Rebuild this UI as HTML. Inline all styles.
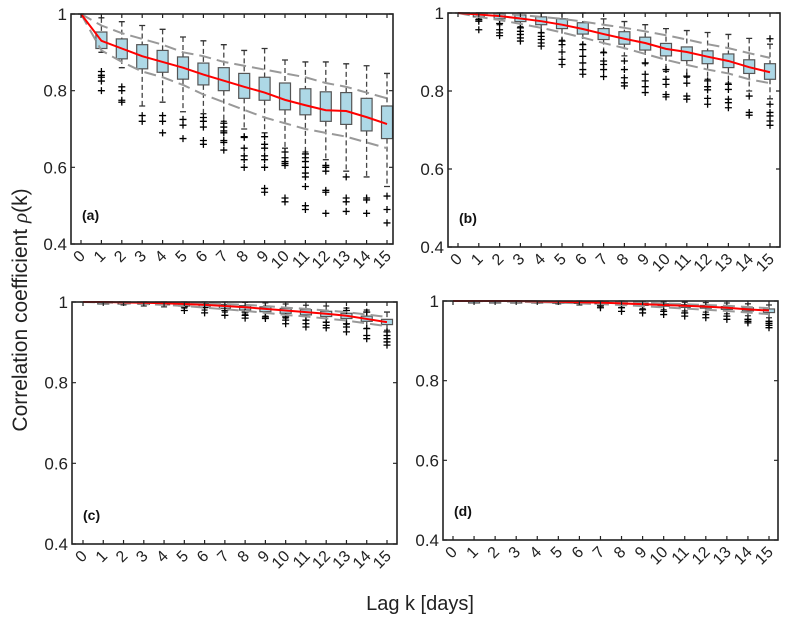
<!DOCTYPE html>
<html><head><meta charset="utf-8"><style>
body{margin:0;background:#fff;}
svg{display:block;font-family:"Liberation Sans",Arial,sans-serif;}
</style></head><body>
<svg id="chart" width="790" height="622" viewBox="0 0 790 622" xmlns="http://www.w3.org/2000/svg">
<text x="0" y="0" transform="translate(27,310) rotate(-90)" text-anchor="middle" font-size="21" fill="#222">Correlation coefficient <tspan font-family="Liberation Serif" font-style="italic">ρ</tspan>(k)</text>
<text x="420" y="610" text-anchor="middle" font-size="20" fill="#222">Lag k [days]</text>
</svg>
<script>
const lags=[0,1,2,3,4,5,6,7,8,9,10,11,12,13,14,15];
const yTicks=[0.4,0.6,0.8,1];
const yTickLabels=["0.4","0.6","0.8","1"];
// Panel (a)
const aMed=[1,0.93,0.91,0.89,0.875,0.86,0.842,0.826,0.81,0.795,0.776,0.762,0.749,0.747,0.731,0.713];
const aQ1=[1,0.91,0.883,0.857,0.848,0.83,0.815,0.8,0.78,0.775,0.75,0.737,0.72,0.712,0.695,0.675];
const aQ3=[1,0.953,0.935,0.92,0.905,0.888,0.872,0.86,0.845,0.835,0.82,0.805,0.797,0.795,0.78,0.76];
const aHi=[1,0.99,0.98,0.97,0.96,0.94,0.93,0.92,0.905,0.91,0.88,0.875,0.875,0.87,0.865,0.845];
const aLo=[1,0.9,0.86,0.76,0.77,0.745,0.74,0.72,0.7,0.69,0.65,0.64,0.62,0.59,0.575,0.55];
const aUp=[1,0.97,0.95,0.935,0.92,0.9,0.89,0.875,0.865,0.855,0.845,0.835,0.82,0.81,0.795,0.78];
const aDn=[1,0.905,0.875,0.85,0.835,0.815,0.79,0.77,0.75,0.73,0.715,0.7,0.69,0.68,0.665,0.65];
const aOut=[[],[0.85,0.84,0.835,0.825,0.8],[0.81,0.8,0.775,0.77],[0.735,0.72],[0.735,0.72,0.69],[0.725,0.71,0.675],[0.73,0.72,0.705,0.67,0.66],[0.715,0.705,0.695,0.69,0.67,0.665,0.645],[0.68,0.678,0.65,0.63,0.62,0.6],[0.68,0.66,0.65,0.63,0.62,0.6,0.545,0.535],[0.64,0.625,0.615,0.61,0.605,0.52,0.51],[0.635,0.625,0.615,0.6,0.585,0.575,0.55,0.5,0.49],[0.605,0.6,0.59,0.54,0.535,0.48],[0.575,0.52,0.51,0.485],[0.52,0.515,0.48],[0.525,0.49,0.455]];
// Panel (b)
const bMed=[1,0.996,0.992,0.986,0.979,0.97,0.959,0.946,0.934,0.923,0.908,0.9,0.888,0.877,0.861,0.848];
const bQ1=[1,0.99,0.985,0.978,0.97,0.96,0.946,0.932,0.92,0.905,0.89,0.878,0.87,0.86,0.845,0.83];
const bQ3=[1,0.999,0.998,0.995,0.99,0.985,0.975,0.96,0.952,0.938,0.922,0.913,0.903,0.895,0.88,0.87];
const bHi=[1,1,1,1,1,1,1,0.985,0.978,0.97,0.96,0.955,0.95,0.945,0.935,0.92];
const bLo=[1,0.985,0.97,0.965,0.95,0.93,0.92,0.9,0.89,0.87,0.85,0.835,0.83,0.82,0.8,0.78];
const bUp=[1,1,0.998,0.995,0.99,0.985,0.978,0.97,0.962,0.953,0.943,0.932,0.92,0.91,0.897,0.885];
const bDn=[1,0.99,0.982,0.972,0.962,0.95,0.937,0.923,0.91,0.895,0.88,0.867,0.855,0.845,0.83,0.82];
const bOut=[[],[0.983,0.979,0.957],[0.973,0.957,0.949,0.942],[0.962,0.953,0.945,0.936,0.928],[0.949,0.94,0.932,0.923,0.915],[0.928,0.919,0.9,0.881,0.868],[0.919,0.906,0.889,0.872,0.855,0.843],[0.898,0.877,0.868,0.855,0.837],[0.877,0.855,0.834,0.821,0.813],[0.872,0.843,0.826,0.811,0.796],[0.855,0.83,0.817,0.791,0.785],[0.838,0.82,0.787,0.779],[0.826,0.811,0.803,0.781,0.766],[0.817,0.804,0.779,0.77,0.757],[0.787,0.745,0.738],[0.934,0.766,0.745,0.736,0.723,0.712]];
// Panel (c)
const cMed=[1,1,0.999,0.998,0.997,0.995,0.993,0.99,0.987,0.983,0.979,0.975,0.971,0.966,0.958,0.95];
const cQ1=[1,0.999,0.997,0.995,0.993,0.99,0.987,0.984,0.98,0.976,0.972,0.968,0.964,0.959,0.952,0.944];
const cQ3=[1,1,1,0.999,0.999,0.998,0.996,0.994,0.991,0.988,0.984,0.981,0.977,0.972,0.965,0.957];
const cHi=[1,1,1,1,1,1,1,1,0.999,0.998,0.995,0.992,0.99,0.985,0.98,0.975];
const cLo=[1,0.997,0.993,0.99,0.988,0.985,0.98,0.975,0.97,0.965,0.96,0.955,0.95,0.945,0.935,0.93];
const cUp=[1,1,1,0.999,0.999,0.998,0.997,0.995,0.993,0.99,0.986,0.983,0.979,0.975,0.969,0.963];
const cDn=[1,0.999,0.997,0.995,0.993,0.99,0.986,0.982,0.978,0.973,0.968,0.964,0.959,0.954,0.947,0.94];
const cOut=[[],[],[],[],[],[0.988,0.979],[0.986,0.973],[0.979,0.967],[0.975,0.967,0.96],[0.963,0.959],[0.963,0.955,0.946],[0.955,0.946,0.938],[0.95,0.942,0.936],[0.979,0.946,0.938,0.926],[0.975,0.934,0.917,0.909],[0.926,0.917,0.909,0.901,0.893]];
// Panel (d)
const dMed=[1,1,1,1,0.999,0.998,0.997,0.996,0.994,0.992,0.99,0.988,0.986,0.983,0.979,0.976];
const dQ1=[1,1,0.999,0.999,0.998,0.996,0.995,0.993,0.991,0.989,0.987,0.984,0.982,0.979,0.975,0.971];
const dQ3=[1,1,1,1,1,0.999,0.999,0.998,0.997,0.995,0.993,0.991,0.989,0.986,0.983,0.98];
const dHi=[1,1,1,1,1,1,1,1,1,0.999,0.998,0.997,0.996,0.995,0.993,0.99];
const dLo=[1,0.999,0.998,0.997,0.995,0.993,0.99,0.987,0.984,0.981,0.978,0.975,0.972,0.968,0.963,0.958];
const dUp=[1,1,1,1,1,0.999,0.999,0.998,0.997,0.996,0.994,0.992,0.99,0.988,0.985,0.982];
const dDn=[1,1,0.999,0.998,0.997,0.996,0.994,0.992,0.99,0.987,0.984,0.981,0.978,0.975,0.971,0.967];
const dOut=[[],[],[],[],[],[],[],[0.988,0.983],[0.983,0.974],[0.978,0.97],[0.974,0.966],[0.97,0.962],[0.966,0.958],[0.962,0.954],[0.954,0.949,0.945],[0.949,0.944,0.939,0.933]];

const NS="http://www.w3.org/2000/svg";
const svg=document.getElementById('chart');
function mk(tag,attrs,parent){const e=document.createElementNS(NS,tag);for(const k in attrs)e.setAttribute(k,attrs[k]);(parent||svg).appendChild(e);return e;}

const panels=[
 {id:'a',L:71,R:393,T:14,B:244,x0:81,x15:387,med:aMed,q1:aQ1,q3:aQ3,hi:aHi,lo:aLo,up:aUp,dn:aDn,out:aOut},
 {id:'b',L:448,R:780,T:13,B:247,x0:458,x15:770,med:bMed,q1:bQ1,q3:bQ3,hi:bHi,lo:bLo,up:bUp,dn:bDn,out:bOut},
 {id:'c',L:72,R:397,T:302,B:544,x0:83,x15:387,med:cMed,q1:cQ1,q3:cQ3,hi:cHi,lo:cLo,up:cUp,dn:cDn,out:cOut},
 {id:'d',L:443,R:778,T:301,B:540,x0:453,x15:769,med:dMed,q1:dQ1,q3:dQ3,hi:dHi,lo:dLo,up:dUp,dn:dDn,out:dOut}
];

panels.forEach(p=>{
 const g=mk('g',{});
 
 
 const xs=k=>p.x0+(p.x15-p.x0)*k/15;
 const ys=v=>p.B-(v-0.4)/0.6*(p.B-p.T);
 const bw=11;
 lags.forEach((k,i)=>{
  const x=xs(k);
  const wh=mk('path',{d:`M${x},${ys(p.hi[i])}V${ys(p.q3[i])}M${x},${ys(p.q1[i])}V${ys(p.lo[i])}`,stroke:'#444','stroke-width':1.3,'stroke-dasharray':'5,3',fill:'none'},g);
  
  
  const cap=mk('path',{d:`M${x-3},${ys(p.hi[i])}H${x+3}M${x-3},${ys(p.lo[i])}H${x+3}`,stroke:'#333','stroke-width':1.3},g);
  
  
  if(k>0){
   const y3=ys(p.q3[i]),y1=ys(p.q1[i]);
   const bx=mk('rect',{x:x-bw/2,y:y3,width:bw,height:Math.max(y1-y3,2),fill:'#add8e6',stroke:'#555','stroke-width':1.2},g);
   
   
  }
  p.out[i].forEach(v=>{
   const y=ys(v);
   const o=mk('path',{d:`M${x-3.5},${y}H${x+3.5}M${x},${y-3.5}V${y+3.5}`,stroke:'#000','stroke-width':1.3},g);
   
   
  });
 });
 [['up',p.up],['dn',p.dn]].forEach(([n,arr])=>{
  const b=mk('polyline',{points:lags.map((k,i)=>xs(k)+','+ys(arr[i])).join(' '),fill:'none',stroke:'#999','stroke-width':2,'stroke-dasharray':'12,6'},g);
  
  
 });
 const ml=mk('polyline',{points:lags.map((k,i)=>xs(k)+','+ys(p.med[i])).join(' '),fill:'none',stroke:'#f00','stroke-width':2},g);
 
 
 const fr=mk('rect',{x:p.L,y:p.T,width:p.R-p.L,height:p.B-p.T,fill:'none',stroke:'#222','stroke-width':1.6},g);
 
 
 lags.forEach(k=>{
  const x=xs(k);
  mk('path',{d:`M${x},${p.B}V${p.B-4}M${x},${p.T}V${p.T+4}`,stroke:'#222','stroke-width':1.2},g);
  const t=mk('text',{x:0,y:0,transform:`translate(${x+5},${p.B+13}) rotate(-45)`,'text-anchor':'end','font-size':16,fill:'#222'},g);
  t.textContent=String(k);
  
  
 });
 yTicks.forEach((v,i)=>{
  const y=ys(v);
  mk('path',{d:`M${p.L},${y}H${p.L+4}M${p.R},${y}H${p.R-4}`,stroke:'#222','stroke-width':1.2},g);
  const t=mk('text',{x:p.L-4,y:y+6,'text-anchor':'end','font-size':17,fill:'#222'},g);
  t.textContent=yTickLabels[i];
  
  
 });
 const lb=mk('text',{x:p.L+11,y:p.B-24,'font-size':14,'font-weight':'bold',fill:'#111'},g);
 lb.textContent='('+p.id+')';
 
 
});
</script>
</body></html>
